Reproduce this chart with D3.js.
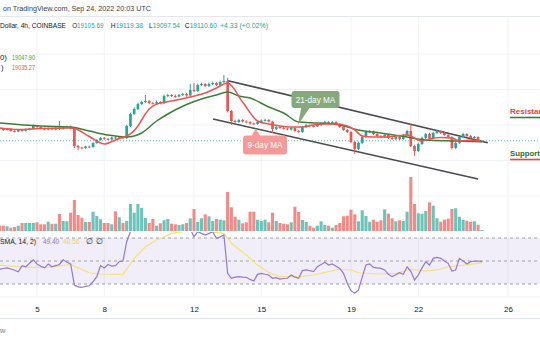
<!DOCTYPE html>
<html>
<head>
<meta charset="utf-8">
<script src="https://cdn.jsdelivr.net/npm/d3@7"></script>
<style>
  html, body { margin: 0; padding: 0; background: #fff; }
  svg { display: block; font-family: "Liberation Sans", Arial, sans-serif; }
</style>
</head>
<body>
<svg id="chart" width="540" height="340"></svg>
<script>
// BTC/USD 4h candles, Sep 3 08:00 UTC to Sep 24 20:00 UTC
const opens = [
  19831,19775,19719,19775,19662,19634,19719,19673,19746,19803,
  19972,19887,19803,19746,19803,19746,19831,19775,19859,19916,
  19803,18818,18733,18705,18789,18761,18987,19155,19268,19212,
  19183,19296,19240,19296,19268,19944,20619,20901,21182,21295,
  21351,21239,21210,21295,21239,21633,21689,21633,21605,21689,
  21745,21661,21971,21914,22252,22308,22196,22308,22365,22252,
  22421,22477,20788,20225,20169,20282,20197,20169,20084,20056,
  20169,20253,20282,20197,19775,19887,19831,19803,19746,19831,
  19662,19606,19887,20000,19944,19916,20000,20084,20169,20113,
  20169,20056,19887,19719,19606,19043,18649,18987,19324,19606,
  19634,19493,19381,19324,19437,19268,19212,19324,19212,19437,
  19662,18818,18536,18930,19268,19493,19268,19550,19662,19550,
  19437,19324,18705,18987,19324,19493,19381,19268,19324,19105.69
];
const highs = [
  19871,19825,19810,19805,19707,19759,19769,19806,19843,20027,
  20012,19922,19848,19863,19843,19881,20225,19919,19961,19966,
  19843,18868,18778,18829,18839,19027,19205,19328,19318,19272,
  19341,19346,19336,19351,20004,20699,20991,21252,21375,21689,
  21411,21309,21385,21345,21713,21759,21749,21723,21749,21815,
  21805,22308,22365,22332,22378,22368,22398,22445,22415,22501,
  22815,22646,20848,20295,20342,20332,20257,20219,20144,20239,
  20313,20352,20332,20237,19937,19927,19881,19843,19891,19871,
  19712,19947,20060,20040,19994,20050,20144,20239,20219,20229,
  20209,20106,19927,19769,19646,19103,19067,19394,19666,19714,
  19684,19553,19431,19497,19487,19328,19394,19374,19497,19732,
  20056,18878,19000,19348,19563,19553,19610,19742,19712,19610,
  19487,19364,19047,19384,19563,19543,19431,19384,19364,19119.38
];
const lows = [
  19735,19669,19679,19617,19584,19594,19623,19633,19696,19763,
  19837,19753,19706,19696,19706,19696,19725,19735,19819,19753,
  18705,18592,18645,18655,18701,18721,18937,19115,19162,19143,
  19133,19200,19190,19228,19218,19884,20569,20841,21132,21245,
  21169,21150,21160,21159,21189,21573,21583,21535,21555,21629,
  21591,21611,21854,21864,22192,22136,22146,22248,22202,22192,
  22361,20708,20000,20099,20119,20137,20099,20024,20006,20016,
  20119,20193,20147,19550,19715,19781,19743,19696,19686,19612,
  19546,19556,19837,19904,19866,19876,19950,20044,20063,20073,
  19996,19837,19669,19546,18973,18367,18589,18937,19264,19546,
  19443,19321,19274,19274,19208,19162,19152,19152,19162,19387,
  18758,18255,18476,18880,19208,19208,19218,19500,19490,19387,
  19274,18625,18645,18937,19264,19331,19218,19228,19066,19097.54
];
const closes = [
  19775,19719,19775,19662,19634,19719,19673,19746,19803,19972,
  19887,19803,19746,19803,19746,19831,19775,19859,19916,19803,
  18818,18733,18705,18789,18761,18987,19155,19268,19212,19183,
  19296,19240,19296,19268,19944,20619,20901,21182,21295,21351,
  21239,21210,21295,21239,21633,21689,21633,21605,21689,21745,
  21661,21971,21914,22252,22308,22196,22308,22365,22252,22421,
  22477,20788,20225,20169,20282,20197,20169,20084,20056,20169,
  20253,20282,20197,19775,19887,19831,19803,19746,19831,19662,
  19606,19887,20000,19944,19916,20000,20084,20169,20113,20169,
  20056,19887,19719,19606,19043,18649,18987,19324,19606,19634,
  19493,19381,19324,19437,19268,19212,19324,19212,19437,19662,
  18818,18536,18930,19268,19493,19268,19550,19662,19550,19437,
  19324,18705,18987,19324,19493,19381,19268,19324,19106.27,19110.60
];
const volumes = [
  1325,1325,1175,825,1000,1325,2000,2000,2000,2000,
  2175,1675,1675,2325,1825,1825,4250,2500,2425,4575,
  7750,4000,3325,2250,2250,4825,3750,2925,2000,2000,
  1675,4925,3425,2000,2500,6750,4575,6750,5750,3250,
  2000,3000,1325,1925,2675,3000,1825,1675,1500,1675,
  2000,3175,5500,2250,3175,4175,3675,2500,3000,2825,
  2675,9750,5925,3575,2825,1925,2175,4825,4825,2825,
  2500,2825,2175,4575,2500,2000,1825,1675,2175,6075,
  4750,2750,2250,1325,825,1325,2425,1500,1325,825,
  1500,2000,3675,3825,5325,4175,2425,5175,3750,2325,
  2825,2325,2675,5425,4325,3175,2425,2675,2500,4825,
  13500,6750,4425,4325,5000,7175,6325,3175,2325,2825,
  3075,5500,5675,3575,2750,2575,2250,2425,1575,250
];

// Moving averages (bar index, price)
const ma9Idx = [0,5,11,19,20,24,28,31,33,34,37,38,39,40,41,43,46,51,55,58,61,65,69,72,75,78,81,84,87,90,93,95,97,100,103,106,109,111,113,115,118,121,123,126,129];
const ma9Val = [19831,19746,19803,19831,19803,19353,18930,19155,19324,19381,19944,20282,20619,20901,21070,21239,21351,21576,21802,22083,22365,21295,20225,20056,19944,19887,19887,20000,20056,20056,19944,19719,19381,19324,19324,19381,19437,19268,19099,19212,19296,19268,19099,19155,19035.27];
const ma21Idx = [0,11,19,24,29,34,38,42,45,48,51,54,58,61,64,67,72,76,80,85,91,96,102,109,114,122,129];
const ma21Val = [20113,19944,19887,19662,19437,19324,19550,20225,20620,20957,21239,21464,21689,21858,21633,21520,21013,20676,20169,20113,20000,19719,19550,19324,19155,19099,19047.90];

// RSI (14) per bar and its SMA
const rsiValues = [
  42.8,43.5,44,43,42,40.7,46,45,48,51,
  47.4,45.5,44,47.4,45,46,47,51,48.9,47.5,
  29,27.5,27,28,28.5,32,36.4,46,44,47,
  45.5,46,49.4,50,66.8,75.5,77,80,82,81,
  78,77,75.5,78,80,77,76,79,81,80,
  77,78,71,75.5,74,72.6,74,75.5,69.7,71,
  72.6,39.3,35,36,36.4,36,35.8,34,32.6,38.4,
  39.3,38.5,37.8,35,35.5,34.3,34.8,35,37.8,36,
  35,41.6,42.2,41.5,40.7,45,47,48.9,46.5,47.4,
  45.5,43.6,39.3,30.6,24.2,21.9,24.8,36,46.5,47.4,
  44.5,44,43.6,42.2,38.4,36.4,38,39.8,38.4,45,
  41,33.5,37.8,44,49.4,46.5,52.3,53.2,52.3,50,
  48,41.3,42.2,52.3,50,47.4,49.4,49.8,50,49.40
];
const rsiMaIdx = [0,5,9,13,19,21,24,27,33,36,39,42,46,50,55,60,62,66,69,72,75,80,84,88,91,94,96,101,106,110,114,117,120,126,129];
const rsiMaVal = [46.5,45,44.5,44.5,47,44,39.8,38.7,38.4,52.3,62.4,68.3,74,76,76,74,65.4,55.2,46.5,40,36.4,36.4,37.8,40.7,42.8,42.2,39.8,38.7,39.3,42.8,41.3,42.2,45,47,48.56];
const rsiLevels = [70, 50, 30];

// Descending channel (bar index, price)
const channelUpper = [[61.1, 22494], [130.6, 19003]];
const channelLower = [[57.1, 20338], [128.0, 16960]];

const priceTicks = [16000, 18000, 20000, 22000, 24000];
const dayTicks = [5, 8, 12, 15, 19, 22, 26];

const startMs = Date.UTC(2022, 8, 3, 8);
const barMs = 4 * 3600 * 1000;
const timeOf = i => new Date(startMs + i * barMs);

const svg = d3.select("#chart");
const W = 540;
const UP = "#26a69a", DOWN = "#ef5350";

const x = d3.scaleUtc()
  .domain([new Date(Date.UTC(2022, 8, 5)), new Date(Date.UTC(2022, 8, 26))])
  .range([37, 508]);
const xi = i => x(timeOf(i));
const y = d3.scaleLinear().domain([16000, 24000]).range([196, 54]);
const yv = d3.scaleLinear().domain([0, 14000]).range([231, 175]);
const yr = d3.scaleLinear().domain([30, 70]).range([284, 238]);

const defs = svg.append("defs");
defs.append("clipPath").attr("id", "mainClip")
  .append("rect").attr("x", 0).attr("y", 17).attr("width", W).attr("height", 215);
defs.append("clipPath").attr("id", "rsiClip")
  .append("rect").attr("x", 0).attr("y", 232).attr("width", W).attr("height", 65);

// fitted text helper
function label(g, px, py, str, fill, len) {
  const t = g.append("text").attr("x", px).attr("y", py).attr("fill", fill).text(str);
  if (len) t.attr("textLength", len).attr("lengthAdjust", "spacingAndGlyphs");
  return t;
}

// header
const head = svg.append("g").attr("font-size", 7.8);
label(head, 3, 11, "on TradingView.com, Sep 24, 2022 20:03 UTC", "#3b3e47", 148);
svg.append("line").attr("x1", 0).attr("x2", W).attr("y1", 16.5).attr("y2", 16.5)
  .attr("stroke", "#e4e7ee").attr("stroke-width", 1);

// grid
const grid = svg.append("g");
grid.selectAll("line.v").data(dayTicks).join("line")
  .attr("x1", d => x(new Date(Date.UTC(2022, 8, d)))).attr("x2", d => x(new Date(Date.UTC(2022, 8, d))))
  .attr("y1", 17).attr("y2", 297)
  .attr("stroke", "#f0f2f6").attr("stroke-width", 1);
grid.selectAll("line.h").data(priceTicks).join("line")
  .attr("x1", 0).attr("x2", W).attr("y1", d => y(d)).attr("y2", d => y(d))
  .attr("stroke", "#f0f2f6").attr("stroke-width", 1);

// volume
const bars = d3.range(closes.length);
const volG = svg.append("g").attr("clip-path", "url(#mainClip)");
volG.selectAll("rect").data(bars).join("rect")
  .attr("x", i => xi(i) - 1.55).attr("width", 3.1)
  .attr("y", i => yv(volumes[i])).attr("height", i => yv(0) - yv(volumes[i]))
  .attr("fill", i => closes[i] >= opens[i] ? UP : DOWN)
  .attr("opacity", 0.68);

// last price line
const lastClose = closes[closes.length - 1];
svg.append("line").attr("x1", 0).attr("x2", W)
  .attr("y1", y(lastClose)).attr("y2", y(lastClose))
  .attr("stroke", "#5fbfb3").attr("stroke-width", 1).attr("stroke-dasharray", "1,2");

const main = svg.append("g").attr("clip-path", "url(#mainClip)");

// channel
const chLine = d3.line().x(d => xi(d[0])).y(d => y(d[1]));
[channelUpper, channelLower].forEach(c => {
  main.append("path").attr("d", chLine(c)).attr("fill", "none")
    .attr("stroke", "#4a4a4f").attr("stroke-width", 1.6);
});

// candles
const cg = main.append("g");
cg.selectAll("line").data(bars).join("line")
  .attr("x1", i => xi(i)).attr("x2", i => xi(i))
  .attr("y1", i => y(highs[i])).attr("y2", i => y(lows[i]))
  .attr("stroke", i => closes[i] >= opens[i] ? UP : DOWN).attr("stroke-width", 1);
cg.selectAll("rect").data(bars).join("rect")
  .attr("x", i => xi(i) - 1.35).attr("width", 2.7)
  .attr("y", i => y(Math.max(opens[i], closes[i])))
  .attr("height", i => Math.max(0.9, Math.abs(y(opens[i]) - y(closes[i]))))
  .attr("fill", i => closes[i] >= opens[i] ? UP : DOWN);

// moving averages
const maLine = d3.line().x(d => xi(d[0])).y(d => y(d[1])).curve(d3.curveMonotoneX);
main.append("path").attr("d", maLine(ma21Idx.map((k, j) => [k, ma21Val[j]])))
  .attr("fill", "none").attr("stroke", "#3f7d3a").attr("stroke-width", 1.5);
main.append("path").attr("d", maLine(ma9Idx.map((k, j) => [k, ma9Val[j]])))
  .attr("fill", "none").attr("stroke", "#f0524f").attr("stroke-width", 1.5);

// callouts
function callout(cx, cy, w, h, tail, fill, text) {
  const g = svg.append("g");
  g.append("path").attr("d", d3.line()(tail)).attr("fill", fill);
  g.append("rect").attr("x", cx - w / 2).attr("y", cy - h / 2).attr("width", w).attr("height", h)
    .attr("rx", 3).attr("fill", fill);
  g.append("text").attr("x", cx).attr("y", cy + 3).attr("text-anchor", "middle")
    .attr("font-size", 8.2).attr("fill", "#fff").text(text);
}
const c21x = xi(84.5), c21y = y(21430);
callout(c21x, c21y, 48, 17,
  [[c21x - 14, c21y + 7], [c21x - 5, c21y + 7], [xi(79.8), y(20000)]],
  "#86a87c", "21-day MA");
const c9x = xi(71), c9y = y(18870);
callout(c9x, c9y, 44, 19,
  [[c9x - 14, c9y - 8], [c9x - 4, c9y - 8], [xi(68.5), y(19800)]],
  "#f59a98", "9-day MA");

// support / resistance tags
svg.append("text").attr("x", 510).attr("y", 114).attr("font-size", 8).attr("font-weight", "bold")
  .attr("fill", "#ef4444").text("Resistance");
svg.append("line").attr("x1", 510).attr("x2", W).attr("y1", 117.5).attr("y2", 117.5)
  .attr("stroke", "#3e7c3a").attr("stroke-width", 1.6);
svg.append("text").attr("x", 510).attr("y", 156).attr("font-size", 7.8).attr("font-weight", "bold")
  .attr("fill", "#2f6b2b").text("Support");
svg.append("line").attr("x1", 510).attr("x2", W).attr("y1", 159.5).attr("y2", 159.5)
  .attr("stroke", "#ef4444").attr("stroke-width", 1.6);

// legend rows
const fmt = d3.format(".2f");
const n = closes.length - 1;
const legend = svg.append("g").attr("font-size", 7.8);
label(legend, 0, 28, "Dollar, 4h, COINBASE", "#131722", 66).attr("font-size", 6.6);
const ohlc = [["O", opens[n], 72.2, 31.2], ["H", highs[n], 110.8, 32.2], ["L", lows[n], 149, 31], ["C", closes[n], 184.8, 32.2]];
ohlc.forEach(([k, v, px, len]) => {
  const t = legend.append("text").attr("x", px).attr("y", 28)
    .attr("textLength", len).attr("lengthAdjust", "spacingAndGlyphs");
  t.append("tspan").attr("fill", "#131722").text(k);
  t.append("tspan").attr("fill", UP).text(fmt(v));
});
const chg = closes[n] - closes[n - 1];
label(legend, 220, 28, "+" + fmt(chg) + " (+" + fmt(chg / closes[n - 1] * 100) + "%)", UP, 48);
label(legend, 0, 59.5, "0)", "#131722");
label(legend, 12, 59.5, fmt(ma21Val[ma21Val.length - 1]), "#43a047", 23);
label(legend, 1, 70, ")", "#131722");
label(legend, 12, 70, fmt(ma9Val[ma9Val.length - 1]), "#f0524f", 23);

// RSI pane
svg.append("rect").attr("x", 0).attr("width", W).attr("y", yr(70)).attr("height", yr(30) - yr(70))
  .attr("fill", "#7e57c2").attr("opacity", 0.1);
svg.selectAll("line.lvl").data(rsiLevels).join("line")
  .attr("x1", 0).attr("x2", W).attr("y1", d => yr(d)).attr("y2", d => yr(d))
  .attr("stroke", "#8a8d96").attr("stroke-width", 0.8).attr("stroke-dasharray", "3,3");
const rsiG = svg.append("g").attr("clip-path", "url(#rsiClip)");
rsiG.append("path")
  .attr("d", d3.line().x(d => xi(d[0])).y(d => yr(d[1]))(rsiMaIdx.map((k, j) => [k, rsiMaVal[j]])))
  .attr("fill", "none").attr("stroke", "#f3e27a").attr("stroke-width", 1.2);
rsiG.append("path")
  .attr("d", d3.line().x((d, i) => xi(i)).y(d => yr(d))(rsiValues))
  .attr("fill", "none").attr("stroke", "#9577d6").attr("stroke-width", 1.2);

const rl = svg.append("g").attr("font-size", 7.8);
label(rl, 0, 244, "SMA, 14, 2)", "#131722", 36);
label(rl, 43, 244, fmt(rsiValues[rsiValues.length - 1]), "#8f6fd3", 16);
label(rl, 63, 244, fmt(rsiMaVal[rsiMaVal.length - 1]), "#e9d660", 16.5);
label(rl, 86, 244, "\u2205", "#131722");
label(rl, 96, 244, "\u2205", "#131722");

svg.append("line").attr("x1", 0).attr("x2", W).attr("y1", 297).attr("y2", 297)
  .attr("stroke", "#f0f2f6");

// time axis
const xAxis = d3.axisBottom(x)
  .tickValues(dayTicks.map(d => new Date(Date.UTC(2022, 8, d))))
  .tickFormat(d3.utcFormat("%-d")).tickSize(0).tickPadding(0);
const ax = svg.append("g").attr("transform", "translate(0,306)").call(xAxis);
ax.select(".domain").remove();
ax.selectAll("text").attr("font-size", 8).attr("fill", "#131722")
  .attr("font-family", "Liberation Sans, Arial, sans-serif");
svg.append("line").attr("x1", 0).attr("x2", W).attr("y1", 318.5).attr("y2", 318.5)
  .attr("stroke", "#e0e3eb");
svg.append("text").attr("x", 0).attr("y", 333)
  .attr("font-size", 7.5).attr("fill", "#787b86").text("w");
</script>
</body>
</html>
